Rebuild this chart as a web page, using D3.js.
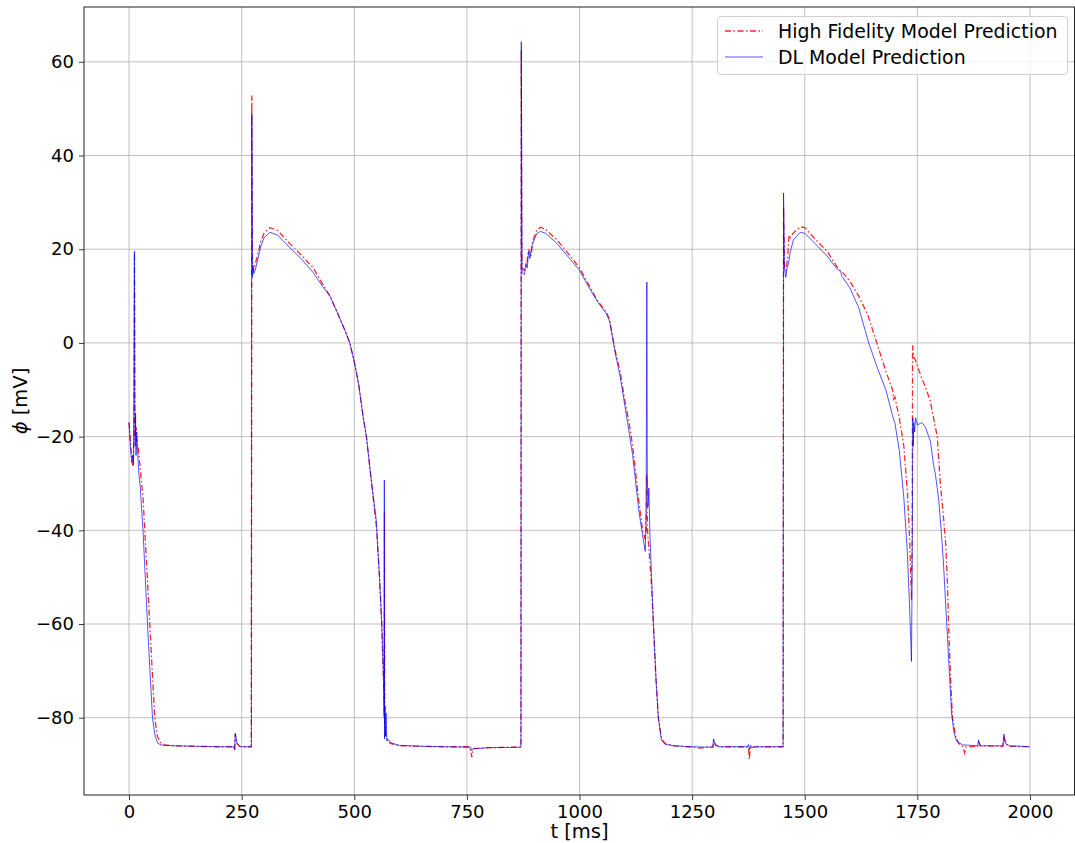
<!DOCTYPE html>
<html>
<head>
<meta charset="utf-8">
<script src="https://cdn.jsdelivr.net/npm/d3@7"></script>
<style>
  body { margin: 0; background: #fff; }
  svg { font-family: "DejaVu Sans", sans-serif; }
</style>
</head>
<body>
<script>
// ---- data: [t (ms), phi (mV)]
const highFidelity = [
  [0,-17],[3,-21],[6,-25],[9,-26.4],[11,-20],[12,19.5],[13,-15],[14,-20],[16,-18],[18,-22],[20,-22],
  [25,-27],[31,-33],[35,-40],[40,-49],[46,-60],[52,-71],[57,-80],[63,-84],[70,-85.3],[80,-85.8],
  [100,-86],[150,-86.1],[200,-86.2],[233,-86.2],[234.5,-87],[236,-83.5],[240,-85.5],[245,-86.1],
  [250,-86.2],[271.5,-86.2],[272.5,52.8],[274,16],[276,15.5],[279,16.5],[285,18.5],[292,21.5],
  [300,23.5],[313,24.6],[330,24],[357,21.2],[380,19],[409,16],[430,12.5],[446,10],[460,7],[480,2.5],
  [490,0],[500,-4],[510,-9],[520,-16],[527,-20],[535,-27],[542,-33],[550,-40],[556,-50],[561,-60],
  [565,-72],[566.5,-79],[567,-36],[567.5,-82],[572,-84.5],[580,-85.5],[600,-86],[650,-86.1],
  [700,-86.2],[755,-86.2],[758,-87],[761,-88.4],[763,-87],[766,-86.6],[800,-86.4],[850,-86.3],
  [870,-86.3],[870.7,62.6],[872,16],[877,15.5],[883,17],[887,20],[892,18.5],[897,22],[905,24],
  [913,24.7],[925,24.2],[950,22],[980,18.5],[1000,16],[1020,12.5],[1040,9],[1060,6.5],[1067,5],
  [1070,3],[1080,-2],[1090,-6],[1100,-12],[1110,-17],[1118,-22],[1125,-28],[1132,-34],[1140,-40],
  [1146,-42],[1148,-40],[1149,-28],[1151,-40],[1155,-45],[1160,-52],[1165,-62],[1170,-72],[1175,-80],
  [1182,-84.5],[1190,-85.5],[1210,-86],[1240,-86.2],[1270,-86.5],[1280,-86.3],[1296,-86.3],
  [1298,-84.8],[1302,-85.8],[1310,-86.2],[1350,-86.2],[1375,-86.3],[1377,-88.9],[1379,-86.3],
  [1400,-86.2],[1452,-86.2],[1453,29],[1455,16],[1458,15.5],[1462,18],[1465,23],[1468,22.5],
  [1475,23.5],[1490,24.8],[1500,24.6],[1520,22.5],[1550,19.5],[1570,16.5],[1578,15.5],[1582,15.3],
  [1600,13.2],[1620,10],[1640,6],[1660,0],[1680,-6],[1695,-10],[1697,-12],[1700,-11.5],[1710,-16],
  [1720,-22],[1728,-32],[1733,-42],[1737,-55],[1738.5,-40],[1739.5,-0.5],[1742,-3],[1745,-3.5],
  [1757,-6.8],[1770,-10],[1779,-12.5],[1790,-18],[1794,-19.8],[1797,-24],[1801,-30],[1807,-36],
  [1813,-43],[1817,-52],[1820,-62],[1824,-72],[1828,-80],[1835,-84],[1842,-85.5],[1850,-86],
  [1855,-87.5],[1858,-86.3],[1880,-86.1],[1884,-86.2],[1886,-85.2],[1890,-86],[1940,-86.1],
  [1942,-84],[1946,-85.6],[1955,-86.1],[2000,-86.2]
];

const dlModel = [
  [0,-17],[3,-22],[6,-25.5],[8,-24],[10,-26],[12,19.5],[12.7,-13],[13.5,-22],[14.5,-15],[15.5,-24],
  [17,-19],[19,-23],[21,-27],[25,-31],[31,-40],[36,-50],[41,-60],[47,-71],[52,-80],[58,-84],
  [64,-85.5],[75,-85.9],[100,-86],[150,-86.1],[200,-86.2],[233,-86.2],[234.5,-86.8],[235.5,-83.3],
  [240,-85.6],[245,-86.1],[250,-86.2],[271.5,-86.2],[272.5,49],[274,14],[275.5,16.5],[277,14.8],
  [280,15.5],[285,17.5],[292,20.5],[300,22.5],[313,23.6],[330,23],[357,20.3],[380,18.2],[409,15],
  [430,12],[446,10],[460,7],[480,2.5],[490,0],[500,-4],[510,-9],[520,-16],[527,-20],[535,-27],
  [545,-35],[549,-38],[551,-42],[556,-50],[561,-60],[565,-72],[566.3,-80],[566.7,-29.3],
  [567.2,-84.5],[568.3,-77.5],[569.3,-84],[570.5,-79],[572.5,-85],[575,-84.6],[582,-85.4],
  [600,-85.9],[650,-86.1],[700,-86.2],[758,-86.3],[761,-87],[764,-86.6],[800,-86.4],[870,-86.3],
  [870.8,64.3],[872.5,15],[878,14.6],[881,17],[884,16],[887,19.5],[890,18],[895,21],[905,23.3],
  [913,23.8],[925,23.4],[950,21.2],[980,17.8],[1000,15.5],[1020,12],[1040,8.8],[1060,6.2],
  [1067,4.5],[1070,3],[1080,-2.5],[1090,-7],[1100,-13],[1110,-19],[1118,-24],[1125,-30],[1132,-36],
  [1140,-41],[1146,-44.5],[1148,-35],[1149.5,13],[1150.5,-28],[1152,-35],[1154,-31],[1156,-40],
  [1160,-50],[1165,-62],[1170,-72],[1175,-80],[1182,-84.8],[1190,-85.7],[1210,-86],[1250,-86.2],
  [1296,-86.3],[1297.5,-84.5],[1301,-85.8],[1310,-86.2],[1372,-86.2],[1375,-85.7],[1377,-86.8],
  [1380,-85.9],[1383,-86.5],[1386,-86.2],[1452,-86.2],[1453,32],[1455,16],[1458,14],[1461,16],
  [1464,17],[1468,19.5],[1475,22],[1490,23.6],[1500,23.4],[1520,21.5],[1550,18.5],[1570,16],
  [1580,15.2],[1582,14.3],[1600,11.8],[1620,7.5],[1642,0],[1660,-5],[1680,-10],[1695,-15.5],
  [1698,-16.5],[1700,-17],[1710,-23],[1720,-33],[1728,-45],[1733,-57],[1737,-68],[1739,-40],
  [1740,-16],[1741,-22],[1742,-17],[1744,-19],[1746,-16],[1750,-17.5],[1760,-17],[1768,-18],
  [1779,-21],[1786,-26],[1790,-28],[1797,-33],[1803,-40],[1808,-47],[1813,-56],[1817,-63],
  [1822,-72],[1826,-79],[1831,-83],[1837,-85],[1850,-85.8],[1884,-86],[1886,-84.8],[1889,-86],
  [1940,-86],[1942,-83.5],[1946,-85.5],[1955,-86],[2000,-86.2]
];

const xTicks = [0, 250, 500, 750, 1000, 1250, 1500, 1750, 2000];
const yTicks = [-80, -60, -40, -20, 0, 20, 40, 60];
const seriesNames = ["High Fidelity Model Prediction", "DL Model Prediction"];

// ---- layout
const W = 1075, H = 843;
const plot = { left: 84, right: 1075, top: 7, bottom: 795 };

const svg = d3.select("body").append("svg")
  .attr("width", W)
  .attr("height", H);

const x = d3.scaleLinear().domain([-100, 2100]).range([plot.left, plot.right]);
const y = d3.scaleLinear().domain([-96.5, 71.7]).range([plot.bottom, plot.top]);

// grid
const grid = svg.append("g").attr("stroke", "#b0b0b0").attr("stroke-width", 0.8);
grid.selectAll(".gx").data(xTicks).enter().append("line")
  .attr("x1", d => x(d)).attr("x2", d => x(d))
  .attr("y1", plot.top).attr("y2", plot.bottom);
grid.selectAll(".gy").data(yTicks).enter().append("line")
  .attr("x1", plot.left).attr("x2", plot.right)
  .attr("y1", d => y(d)).attr("y2", d => y(d));

// axes
const fmt = d => (d < 0 ? "\u2212" + Math.abs(d) : "" + d);
const xAxis = svg.append("g")
  .attr("transform", "translate(0," + plot.bottom + ")")
  .call(d3.axisBottom(x).tickValues(xTicks).tickFormat(fmt).tickSize(5).tickPadding(5));
const yAxis = svg.append("g")
  .attr("transform", "translate(" + plot.left + ",0)")
  .call(d3.axisLeft(y).tickValues(yTicks).tickFormat(fmt).tickSize(5).tickPadding(5));
[xAxis, yAxis].forEach(a => {
  a.select(".domain").remove();
  a.selectAll("text").attr("font-size", 18).attr("fill", "#000")
    .attr("font-family", "DejaVu Sans, sans-serif");
  a.selectAll(".tick line").attr("stroke", "#222").attr("stroke-width", 0.9);
});

// lines
const line = d3.line().x(d => x(d[0])).y(d => y(d[1]));
svg.append("clipPath").attr("id", "clip").append("rect")
  .attr("x", plot.left).attr("y", plot.top)
  .attr("width", plot.right - plot.left).attr("height", plot.bottom - plot.top);

svg.append("path")
  .datum(highFidelity)
  .attr("clip-path", "url(#clip)")
  .attr("d", line)
  .attr("fill", "none")
  .attr("stroke", "red")
  .attr("stroke-opacity", 0.85)
  .attr("stroke-width", 1.3)
  .attr("stroke-dasharray", "6,2.5,1.5,2.5");

svg.append("path")
  .datum(dlModel)
  .attr("clip-path", "url(#clip)")
  .attr("d", line)
  .attr("fill", "none")
  .attr("stroke", "blue")
  .attr("stroke-opacity", 0.75)
  .attr("stroke-width", 0.9);

// frame
svg.append("rect")
  .attr("x", plot.left).attr("y", plot.top)
  .attr("width", plot.right - plot.left - 0.5).attr("height", plot.bottom - plot.top)
  .attr("fill", "none").attr("stroke", "#222").attr("stroke-width", 1);

// axis labels
svg.append("text")
  .attr("x", (x(-100) + x(2100)) / 2).attr("y", 838)
  .attr("text-anchor", "middle").attr("font-size", 19.5)
  .text("t [ms]");
const yl = svg.append("text")
  .attr("transform", "translate(27,401) rotate(-90)")
  .attr("text-anchor", "middle").attr("font-size", 19.5);
yl.append("tspan").attr("font-style", "italic").text("\u03d5");
yl.append("tspan").text(" [mV]");

// legend
const lg = svg.append("g");
lg.append("rect")
  .attr("x", 717.5).attr("y", 16.5).attr("width", 350).attr("height", 58)
  .attr("rx", 3).attr("fill", "#fff").attr("fill-opacity", 0.8)
  .attr("stroke", "#d0d0d0");
const lgItems = lg.selectAll(".item").data(seriesNames).enter().append("g")
  .attr("transform", (d, i) => "translate(0," + (31 + i * 26) + ")");
lgItems.append("line")
  .attr("x1", 725).attr("x2", 763).attr("y1", 0).attr("y2", 0)
  .attr("stroke", (d, i) => (i === 0 ? "red" : "blue"))
  .attr("stroke-opacity", (d, i) => (i === 0 ? 0.85 : 0.75))
  .attr("stroke-width", (d, i) => (i === 0 ? 1.3 : 0.9))
  .attr("stroke-dasharray", (d, i) => (i === 0 ? "6,2.5,1.5,2.5" : null));
lgItems.append("text")
  .attr("x", 778).attr("y", 7).attr("font-size", 18.9)
  .text(d => d);
</script>
</body>
</html>
